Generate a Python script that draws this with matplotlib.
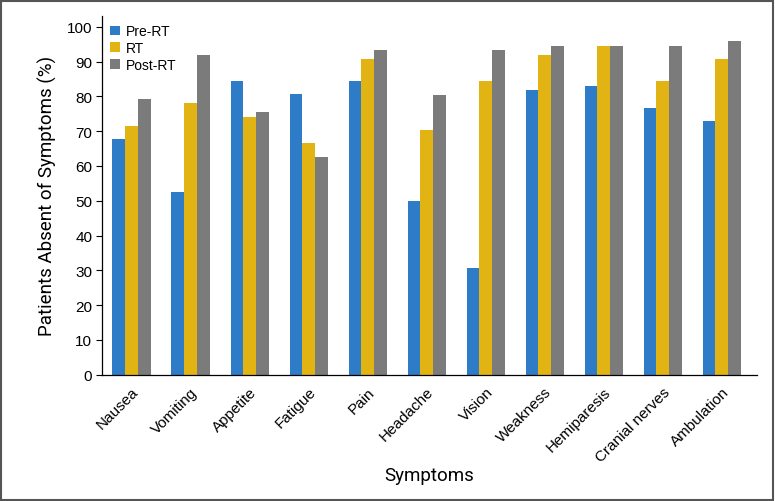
import matplotlib
matplotlib.use("Agg")
import matplotlib.pyplot as plt
from matplotlib.patches import Rectangle
import numpy as np

# Data
symptoms = ["Nausea", "Vomiting", "Appetite", "Fatigue", "Pain", "Headache",
            "Vision", "Weakness", "Hemiparesis", "Cranial nerves", "Ambulation"]
pre_rt = [67.7, 52.4, 84.4, 80.6, 84.4, 49.8, 30.7, 81.9, 83.1, 76.7, 72.9]
rt = [71.6, 78.0, 74.1, 66.5, 90.8, 70.3, 84.4, 92.0, 94.6, 84.4, 90.8]
post_rt = [79.4, 92.0, 75.5, 62.6, 93.4, 80.5, 93.3, 94.6, 94.6, 94.6, 95.9]

series_names = ["Pre-RT", "RT", "Post-RT"]
colors = ["#2E7BC8", "#E2B413", "#7B7B7B"]

plt.rcParams['font.family'] = ['Liberation Sans', 'DejaVu Sans']

fig = plt.figure(figsize=(7.75, 5.02), dpi=100)
ax = fig.add_axes([0.1316, 0.2516, 0.8454, 0.7144])

x = np.arange(len(symptoms))
w = 0.215
for i, (vals, name, c) in enumerate(zip([pre_rt, rt, post_rt], series_names, colors)):
    ax.bar(x + (i - 1) * w, vals, width=w, color=c, label=name, linewidth=0)

ax.set_xlim(-0.5, 10.6)
ax.set_ylim(0, 103.1)
ax.set_yticks(range(0, 101, 10))
ax.set_xticks(x)
ax.set_xticklabels(symptoms, rotation=45, ha="right", rotation_mode="anchor",
                   fontsize=11)
ax.tick_params(axis="x", length=0, pad=7)
ax.tick_params(axis="y", length=4, width=0.8, labelsize=11, pad=3)

for s in ["top", "right"]:
    ax.spines[s].set_visible(False)
ax.spines["left"].set_linewidth(0.9)
ax.spines["bottom"].set_linewidth(0.9)

ax.set_ylabel("Patients Absent of Symptoms (%)", fontsize=13.5,
              family=["Roboto", "DejaVu Sans"], labelpad=7)
ax.set_xlabel("Symptoms", fontsize=13.5, family=["Roboto", "DejaVu Sans"])
ax.xaxis.set_label_coords(0.5, -0.255)

leg = ax.legend(loc="upper left", frameon=False, fontsize=10,
                handlelength=0.7, handleheight=0.7, handletextpad=0.4,
                labelspacing=0.2, borderaxespad=0.2,
                bbox_to_anchor=(0.0, 1.0))

# frame around the whole figure
fig.patches.append(Rectangle((0.001, 0.002), 0.997, 0.995, transform=fig.transFigure,
                             fill=False, edgecolor="#555555", linewidth=1.5))

fig.savefig("out.png", dpi=100)
